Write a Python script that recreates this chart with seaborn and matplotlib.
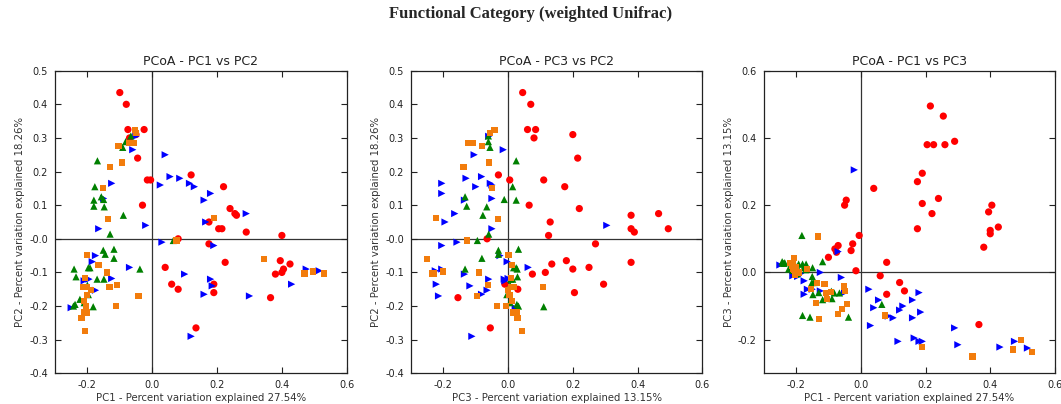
import matplotlib
matplotlib.use("Agg")
import matplotlib.pyplot as plt
import pandas as pd
import seaborn as sns

# Principal coordinate scores per sample (PC1, PC2, PC3), one list per group
red_pc1 = [-0.10, -0.08, -0.075, -0.025, -0.07, -0.05, -0.045, -0.015, -0.005, -0.03,
           0.12, 0.22, 0.24, 0.255, 0.26, 0.175, 0.205, 0.215, 0.29, 0.40,
           0.08, 0.175, 0.225, 0.04, 0.06, 0.08, 0.19, 0.19, 0.135, 0.365,
           0.38, 0.40, 0.405, 0.395, 0.425]
red_pc2 = [0.435, 0.40, 0.325, 0.325, 0.30, 0.31, 0.24, 0.175, 0.175, 0.10,
           0.19, 0.155, 0.09, 0.075, 0.07, 0.05, 0.03, 0.03, 0.02, 0.01,
           0.00, -0.015, -0.07, -0.085, -0.135, -0.15, -0.135, -0.16, -0.265, -0.175,
           -0.105, -0.10, -0.09, -0.065, -0.075]
red_pc3 = [0.045, 0.07, 0.06, 0.085, 0.08, 0.20, 0.215, 0.005, 0.11, 0.065,
           -0.03, 0.175, 0.22, 0.465, 0.38, 0.13, 0.38, 0.495, 0.39, 0.125,
           -0.065, 0.27, 0.38, 0.25, -0.01, 0.03, 0.295, 0.205, -0.055, -0.155,
           0.075, 0.115, 0.20, 0.18, 0.135]

blue_pc1 = [0.04, -0.06, -0.05, 0.055, 0.085, 0.025, 0.115, 0.13, -0.125, -0.15,
            0.18, 0.16, 0.29, 0.165, -0.165, -0.02, 0.03, 0.19, -0.07, 0.10,
            -0.175, -0.185, -0.195, -0.125, -0.175, -0.25, 0.18, 0.185, 0.16, 0.30,
            0.43, 0.475, 0.515, 0.12, -0.21]
blue_pc2 = [0.25, 0.265, 0.305, 0.185, 0.18, 0.16, 0.165, 0.155, 0.165, 0.12,
            0.135, 0.115, 0.075, 0.05, 0.03, 0.04, -0.01, -0.02, -0.085, -0.105,
            -0.05, -0.068, -0.12, -0.118, -0.153, -0.205, -0.12, -0.14, -0.165, -0.17,
            -0.135, -0.09, -0.095, -0.29, -0.125]
blue_pc3 = [-0.105, -0.015, -0.06, -0.082, -0.13, -0.05, -0.205, -0.10, -0.055, -0.05,
            -0.205, -0.135, -0.165, -0.195, -0.05, 0.305, -0.158, -0.205, 0.062, -0.135,
            -0.025, -0.003, -0.012, 0.0, -0.065, 0.022, -0.06, -0.118, -0.082, -0.215,
            -0.222, -0.205, -0.225, -0.112, -0.01]

green_pc1 = [-0.066, -0.082, -0.091, -0.169, -0.177, -0.157, -0.18, -0.15, -0.18, -0.148,
             -0.089, -0.13, 0.065, -0.151, -0.145, -0.118, -0.118, -0.241, -0.197, -0.192,
             -0.235, -0.17, -0.149, -0.038, -0.20, -0.197, -0.223, -0.238, -0.243, -0.182,
             -0.21]
green_pc2 = [0.306, 0.289, 0.272, 0.232, 0.155, 0.125, 0.115, 0.117, 0.097, 0.095,
             0.07, 0.014, -0.005, -0.034, -0.046, -0.031, -0.058, -0.09, -0.086, -0.086,
             -0.113, -0.12, -0.12, -0.09, -0.138, -0.166, -0.18, -0.195, -0.20, -0.202,
             -0.19]
green_pc3 = [-0.061, -0.061, -0.056, 0.025, 0.014, -0.133, 0.025, -0.012, -0.128, -0.066,
             -0.078, -0.06, -0.095, -0.03, -0.03, 0.032, -0.081, 0.028, 0.017, 0.025,
             0.029, 0.008, 0.014, -0.133, 0.006, -0.004, 0.01, 0.027, 0.032, 0.11,
             0.006]

orange_pc1 = [-0.052, -0.05, -0.071, -0.058, -0.104, -0.093, -0.13, -0.153, -0.136, 0.19,
              0.075, 0.345, 0.47, 0.495, 0.53, -0.20, -0.166, -0.139, -0.207, -0.213,
              -0.202, -0.132, -0.108, -0.19, -0.202, -0.042, -0.21, -0.204, -0.112, -0.21,
              -0.20, -0.218, -0.207]
orange_pc2 = [0.324, 0.314, 0.285, 0.285, 0.275, 0.227, 0.213, 0.151, 0.059, 0.062,
              -0.005, -0.06, -0.103, -0.097, -0.103, -0.049, -0.078, -0.10, -0.116, -0.143,
              -0.143, -0.143, -0.138, -0.153, -0.166, -0.17, -0.185, -0.20, -0.20, -0.219,
              -0.219, -0.235, -0.275]
orange_pc3 = [-0.042, -0.056, -0.123, -0.109, -0.08, -0.058, -0.138, -0.05, -0.032, -0.222,
              -0.128, -0.25, -0.229, -0.202, -0.236, 0.001, 0.011, -0.09, 0.009, 0.018,
              0.008, 0.107, -0.061, 0.0, 0.004, -0.095, 0.011, -0.006, -0.035, 0.027,
              0.016, 0.029, 0.042]

groups = ["A", "B", "C", "D"]
variance = {"PC1": 27.54, "PC2": 18.26, "PC3": 13.15}

frames = []
for name, pcs in zip(groups, [(red_pc1, red_pc2, red_pc3),
                              (blue_pc1, blue_pc2, blue_pc3),
                              (green_pc1, green_pc2, green_pc3),
                              (orange_pc1, orange_pc2, orange_pc3)]):
    frames.append(pd.DataFrame({"PC1": pcs[0], "PC2": pcs[1], "PC3": pcs[2], "group": name}))
df = pd.concat(frames, ignore_index=True)

palette = {"A": "#ff0000", "B": "#0000ff", "C": "#008000", "D": "#f27c0c"}
markers = {"A": "o", "B": ">", "C": "^", "D": "s"}
marker_area = {"A": 27, "B": 27, "C": 27, "D": 20}

sns.set_theme(style="white")
plt.rcParams.update({
    "font.family": ["DejaVu Sans"],
    "xtick.direction": "in",
    "ytick.direction": "in",
    "xtick.top": True,
    "ytick.right": True,
    "xtick.major.size": 4,
    "ytick.major.size": 4,
    "xtick.major.width": 0.8,
    "ytick.major.width": 0.8,
    "xtick.bottom": True,
    "ytick.left": True,
    "axes.edgecolor": "#222222",
    "axes.linewidth": 0.9,
    "xtick.color": "#222222",
    "ytick.color": "#222222",
})

fig = plt.figure(figsize=(10.61, 4.04), dpi=100)

panels = [
    ("PC1", "PC2", (0.0518, 0.076, 0.2750, 0.749), (-0.3, 0.6), (-0.4, 0.5), 0.1),
    ("PC3", "PC2", (0.3874, 0.076, 0.2745, 0.749), (-0.3, 0.6), (-0.4, 0.5), 0.1),
    ("PC1", "PC3", (0.7198, 0.076, 0.2745, 0.749), (-0.3, 0.6), (-0.3, 0.6), 0.2),
]

for xcol, ycol, rect, xlim, ylim, ystep in panels:
    ax = fig.add_axes(rect)
    ax.axhline(0, color="#333333", lw=0.9, zorder=0)
    ax.axvline(0, color="#333333", lw=0.9, zorder=0)
    sns.scatterplot(data=df, x=xcol, y=ycol, hue="group", style="group",
                    size="group", sizes=marker_area, size_order=groups,
                    palette=palette, markers=markers, hue_order=groups,
                    style_order=groups, linewidth=0, edgecolor="none",
                    legend=False, ax=ax, zorder=3)
    ax.set_xlim(*xlim)
    ax.set_ylim(*ylim)
    ax.set_xticks([-0.2, 0.0, 0.2, 0.4, 0.6])
    yt = []
    v = ylim[0] if ystep == 0.1 else -0.2
    while v <= ylim[1] + 1e-9:
        yt.append(round(v, 2))
        v += ystep
    ax.set_yticks(yt)
    ax.xaxis.set_major_formatter(matplotlib.ticker.FormatStrFormatter("%.1f"))
    ax.yaxis.set_major_formatter(matplotlib.ticker.FormatStrFormatter("%.1f"))
    ax.tick_params(labelsize=7, pad=5)
    ax.set_xlabel(f"{xcol} - Percent variation explained {variance[xcol]:.2f}%",
                  fontsize=7.3, color="#333333", labelpad=2)
    ax.set_ylabel(f"{ycol} - Percent variation explained {variance[ycol]:.2f}%",
                  fontsize=7.3, color="#333333", labelpad=3)
    ax.set_title(f"PCoA - {xcol} vs {ycol}", fontsize=9, color="#222222", pad=4)

fig.suptitle("Functional Category (weighted Unifrac)", x=0.5, y=0.985,
             fontsize=12, fontweight="bold", family="Liberation Serif")

fig.savefig("out.png", dpi=100)
